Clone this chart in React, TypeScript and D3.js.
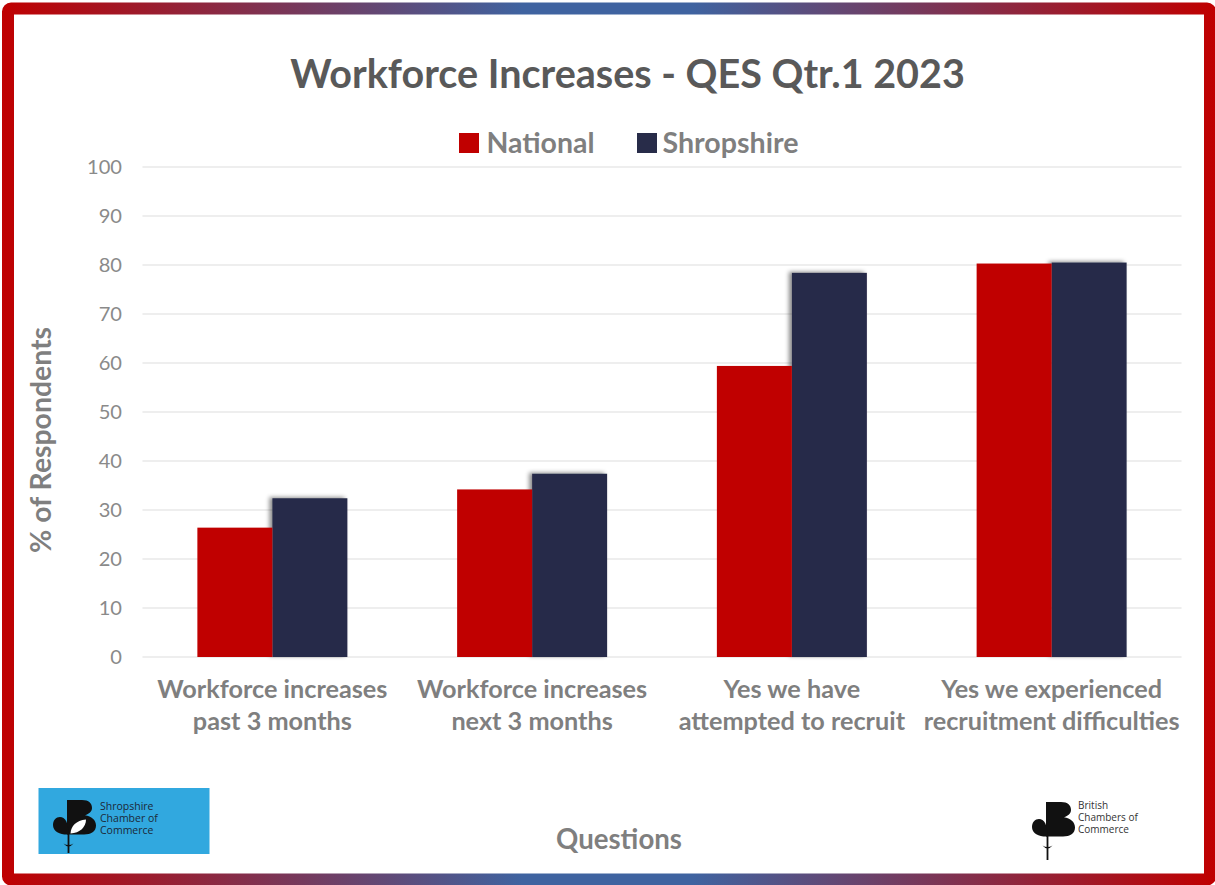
import React, { useLayoutEffect, useRef } from "react";
import * as d3 from "d3";

const TITLE = "Workforce Increases - QES Qtr.1 2023";
const SERIES = ["National", "Shropshire"];
const SERIES_COLORS = ["#c00000", "#282c49"];
const CATEGORY_LINES: string[][] = [
  ["Workforce increases", "past 3 months"],
  ["Workforce increases", "next 3 months"],
  ["Yes we have", "attempted to recruit"],
  ["Yes we experienced", "recruitment difficulties"],
];
const NATIONAL = [26.4, 34.2, 59.4, 80.3];
const SHROPSHIRE = [32.4, 37.4, 78.4, 80.5];
const Y_TICKS = [0, 10, 20, 30, 40, 50, 60, 70, 80, 90, 100];
const Y_TITLE = "% of Respondents";
const X_TITLE = "Questions";
const SCC_LINES = ["Shropshire", "Chamber of", "Commerce"];
const BCC_LINES = ["British", "Chambers of", "Commerce"];

const W = 1215;
const H = 885;
const FONT = "Lato, 'Open Sans', sans-serif";
const LOGO_FONT = "'Liberation Sans Narrow', 'Open Sans', sans-serif";

function fitTexts(svg: SVGSVGElement) {
  const groups = new Map<string, number>();
  svg.querySelectorAll("text[data-fit]").forEach((node) => {
    const el = node as SVGTextElement;
    const target = parseFloat(el.getAttribute("data-fit") || "0");
    const fs = parseFloat(el.getAttribute("data-fs") || "16");
    el.setAttribute("font-size", String(fs));
    const w = el.getComputedTextLength();
    if (w > 0 && target > 0) {
      const nfs = (fs * target) / w;
      el.setAttribute("font-size", String(nfs));
      const g = el.getAttribute("data-group");
      if (g) groups.set(g, nfs);
    }
  });
  groups.forEach((nfs, g) => {
    svg.querySelectorAll(`text[data-member="${g}"]`).forEach((el) =>
      el.setAttribute("font-size", String(nfs))
    );
  });
}

function Logo({ x, y, white, stem }: { x: number; y: number; white: boolean; stem: number }) {
  return (
    <g transform={`translate(${x},${y})`}>
      <path
        d="M14,0 H29 C36,0 39,3.5 39,8 C39,11.5 36,13.8 32,15.3 C38.5,16.3 43,20 43,25.5 C43,31.5 38,34.5 31,34.5 H14 Z"
        fill="#111"
      />
      <path
        d="M15.5,34.5 C8,35 0,32 0,25 C0,20 3,17 7,17 C12,17 15.5,22 15.5,34.5 Z"
        fill="#111"
      />
      {white && (
        <path d="M17.5,33.5 C18,26 23,20.5 33,19.5 C33,27 27,33 17.5,33.5 Z" fill="#ffffff" />
      )}
      <rect x={14.6} y={34} width={1.8} height={stem} fill="#111" />
      <path d="M10.5,43.5 Q15.5,49.5 20.5,43.5 Q15.5,46.5 10.5,43.5 Z" fill="#111" />
    </g>
  );
}

export default function App() {
  const ref = useRef<SVGSVGElement>(null);

  useLayoutEffect(() => {
    const svg = ref.current;
    if (!svg) return;
    document.body.style.margin = "0";
    fitTexts(svg);
    if ((document as any).fonts && (document as any).fonts.ready) {
      (document as any).fonts.ready.then(() => fitTexts(svg));
    }
  }, []);

  const plotLeft = 142.5;
  const plotRight = 1181.5;
  const y = d3.scaleLinear().domain([0, 100]).range([657, 167]);
  const x = d3
    .scaleBand<number>()
    .domain(d3.range(CATEGORY_LINES.length))
    .range([plotLeft, plotRight])
    .paddingInner(0.4225)
    .paddingOuter(0.21125);
  const xs = d3.scaleBand<string>().domain(SERIES).range([0, x.bandwidth()]).padding(0);
  const values = [NATIONAL, SHROPSHIRE];
  const drawOrder = [1, 0];

  return (
    <div style={{ position: "absolute", left: 0, top: 0 }}>
      <svg ref={ref} width={W} height={H} viewBox={`0 0 ${W} ${H}`} style={{ display: "block" }}>
        <defs>
          <linearGradient id="frame" gradientUnits="userSpaceOnUse" x1={0} y1={0} x2={W} y2={0}>
            <stop offset="0" stopColor="#c00000" />
            <stop offset="0.43" stopColor="#3f63a0" />
            <stop offset="0.57" stopColor="#3f63a0" />
            <stop offset="1" stopColor="#c00000" />
          </linearGradient>
          <filter id="shadow" x="-20%" y="-5%" width="140%" height="110%">
            <feDropShadow dx={-3} dy={-1} stdDeviation={2.2} floodColor="#000" floodOpacity={0.45} />
          </filter>
        </defs>

        <rect x={0} y={0} width={W} height={H} fill="#ffffff" />
        <rect
          x={8}
          y={8.5}
          width={1202}
          height={871}
          rx={3}
          fill="#ffffff"
          stroke="url(#frame)"
          strokeWidth={12}
        />

        {/* Title */}
        <text
          x={627.5}
          y={88}
          textAnchor="middle"
          fontFamily={FONT}
          fontWeight={700}
          fill="#595959"
          data-fs="38"
          data-fit="675"
          fontSize={38}
        >
          {TITLE}
        </text>

        {/* Legend */}
        <rect x={459} y={133} width={20} height={20} fill={SERIES_COLORS[0]} />
        <text
          x={486.5}
          y={153}
          fontFamily={FONT}
          fontWeight={700}
          fill="#7f7f7f"
          data-fs="28"
          data-fit="108"
          fontSize={28}
        >
          {SERIES[0]}
        </text>
        <rect x={637} y={133} width={20} height={20} fill={SERIES_COLORS[1]} />
        <text
          x={662.5}
          y={153}
          fontFamily={FONT}
          fontWeight={700}
          fill="#7f7f7f"
          data-fs="28"
          data-fit="136"
          fontSize={28}
        >
          {SERIES[1]}
        </text>

        {/* Gridlines */}
        {Y_TICKS.map((t) => (
          <line
            key={`g${t}`}
            x1={plotLeft}
            x2={plotRight}
            y1={y(t)}
            y2={y(t)}
            stroke="#e8e8e8"
            strokeWidth={1.5}
          />
        ))}

        {/* Y tick labels */}
        {Y_TICKS.map((t) => (
          <text
            key={`t${t}`}
            x={122}
            y={y(t) + 7}
            textAnchor="end"
            fontFamily={FONT}
            fill="#8a8a8a"
            fontSize={20}
            {...(t === 100
              ? { "data-fs": "20", "data-fit": "35", "data-group": "yt" }
              : { "data-member": "yt" })}
          >
            {t}
          </text>
        ))}

        {/* Bars (Shropshire first so its shadow sits behind the National bars) */}
        {drawOrder.map((si) => (
          <g key={SERIES[si]} filter={si === 1 ? "url(#shadow)" : undefined}>
            {values[si].map((v, ci) => (
              <rect
                key={ci}
                x={(x(ci) as number) + (xs(SERIES[si]) as number)}
                y={y(v)}
                width={xs.bandwidth()}
                height={y(0) - y(v)}
                fill={SERIES_COLORS[si]}
              />
            ))}
          </g>
        ))}

        {/* X labels */}
        {CATEGORY_LINES.map((lines, ci) =>
          lines.map((line, li) => {
            const cx = (x(ci) as number) + x.bandwidth() / 2;
            const isRef = ci === 3 && li === 1;
            return (
              <text
                key={`x${ci}-${li}`}
                x={cx}
                y={698 + li * 32}
                textAnchor="middle"
                fontFamily={FONT}
                fontWeight={700}
                fill="#7f7f7f"
                fontSize={22}
                {...(isRef
                  ? { "data-fs": "22", "data-fit": "256", "data-group": "xl" }
                  : { "data-member": "xl" })}
              >
                {line}
              </text>
            );
          })
        )}

        {/* Axis titles */}
        <text
          transform={`translate(51,440) rotate(-90)`}
          textAnchor="middle"
          fontFamily={FONT}
          fontWeight={700}
          fill="#7f7f7f"
          data-fs="26"
          data-fit="226"
          fontSize={26}
        >
          {Y_TITLE}
        </text>
        <text
          x={619}
          y={849}
          textAnchor="middle"
          fontFamily={FONT}
          fontWeight={700}
          fill="#7f7f7f"
          data-fs="26"
          data-fit="126"
          fontSize={26}
        >
          {X_TITLE}
        </text>

        {/* Shropshire Chamber logo */}
        <rect x={38.5} y={788} width={171} height={66} fill="#31a8df" />
        <Logo x={53} y={800} white={true} stem={19} />
        <g fontFamily={LOGO_FONT} fill="#1c2838">
          {SCC_LINES.map((s, i) => (
            <text key={s} x={100} y={810 + i * 12} fontSize={10.5}>
              {s}
            </text>
          ))}
        </g>

        {/* British Chambers of Commerce logo */}
        <Logo x={1032} y={802} white={false} stem={24} />
        <g fontFamily={LOGO_FONT} fill="#333333">
          {BCC_LINES.map((s, i) => (
            <text key={s + i} x={1078} y={809 + i * 12} fontSize={10}>
              {s}
            </text>
          ))}
        </g>
      </svg>
    </div>
  );
}
